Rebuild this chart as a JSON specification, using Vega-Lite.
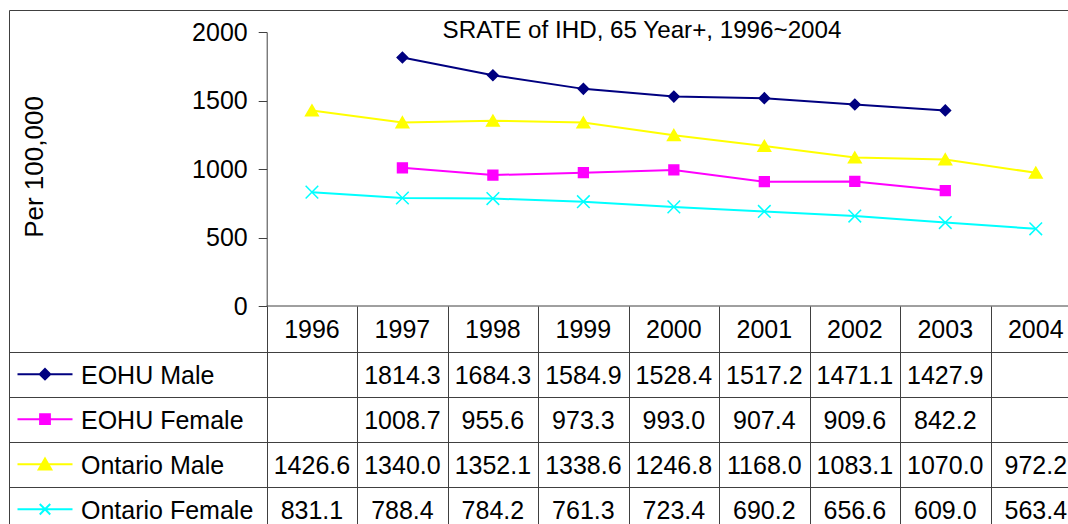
{
  "$schema": "https://vega.github.io/schema/vega-lite/v6.json",
  "width": 1072,
  "height": 520,
  "autosize": {"type": "none"},
  "padding": {"left": 9, "top": 10, "right": 0, "bottom": 0},
  "background": "#ffffff",
  "config": {
    "view": {"stroke": "#404040", "strokeWidth": 1},
    "font": "Liberation Sans",
    "axis": {"domainColor": "#404040", "tickColor": "#404040", "gridColor": "#404040", "domainWidth": 1, "tickWidth": 1, "gridWidth": 1, "labelColor": "#000000", "labelFont": "Liberation Sans", "titleColor": "#000000", "titleFont": "Liberation Sans"}
  },
  "title": {"text": "SRATE of IHD, 65 Year+, 1996~2004", "frame": "group", "anchor": "middle", "dx": 97, "offset": -28, "dy": 24, "baseline": "alphabetic", "fontSize": 24.2, "fontWeight": "normal", "color": "#000000", "font": "Liberation Sans"},
  "datasets": {
    "rates": [
      {"series": "EOHU Male", "year": "1997", "value": 1814.3},
      {"series": "EOHU Male", "year": "1998", "value": 1684.3},
      {"series": "EOHU Male", "year": "1999", "value": 1584.9},
      {"series": "EOHU Male", "year": "2000", "value": 1528.4},
      {"series": "EOHU Male", "year": "2001", "value": 1517.2},
      {"series": "EOHU Male", "year": "2002", "value": 1471.1},
      {"series": "EOHU Male", "year": "2003", "value": 1427.9},
      {"series": "EOHU Female", "year": "1997", "value": 1008.7},
      {"series": "EOHU Female", "year": "1998", "value": 955.6},
      {"series": "EOHU Female", "year": "1999", "value": 973.3},
      {"series": "EOHU Female", "year": "2000", "value": 993.0},
      {"series": "EOHU Female", "year": "2001", "value": 907.4},
      {"series": "EOHU Female", "year": "2002", "value": 909.6},
      {"series": "EOHU Female", "year": "2003", "value": 842.2},
      {"series": "Ontario Male", "year": "1996", "value": 1426.6},
      {"series": "Ontario Male", "year": "1997", "value": 1340.0},
      {"series": "Ontario Male", "year": "1998", "value": 1352.1},
      {"series": "Ontario Male", "year": "1999", "value": 1338.6},
      {"series": "Ontario Male", "year": "2000", "value": 1246.8},
      {"series": "Ontario Male", "year": "2001", "value": 1168.0},
      {"series": "Ontario Male", "year": "2002", "value": 1083.1},
      {"series": "Ontario Male", "year": "2003", "value": 1070.0},
      {"series": "Ontario Male", "year": "2004", "value": 972.2},
      {"series": "Ontario Female", "year": "1996", "value": 831.1},
      {"series": "Ontario Female", "year": "1997", "value": 788.4},
      {"series": "Ontario Female", "year": "1998", "value": 784.2},
      {"series": "Ontario Female", "year": "1999", "value": 761.3},
      {"series": "Ontario Female", "year": "2000", "value": 723.4},
      {"series": "Ontario Female", "year": "2001", "value": 690.2},
      {"series": "Ontario Female", "year": "2002", "value": 656.6},
      {"series": "Ontario Female", "year": "2003", "value": 609.0},
      {"series": "Ontario Female", "year": "2004", "value": 563.4}
    ],
    "years": [
      {"year": "1996"}, {"year": "1997"}, {"year": "1998"}, {"year": "1999"}, {"year": "2000"},
      {"year": "2001"}, {"year": "2002"}, {"year": "2003"}, {"year": "2004"}
    ],
    "series": [
      {"series": "EOHU Male"}, {"series": "EOHU Female"}, {"series": "Ontario Male"}, {"series": "Ontario Female"}
    ]
  },
  "layer": [
    {
      "data": {"name": "rates"},
      "mark": {"type": "line", "strokeWidth": 2},
      "encoding": {
        "x": {"field": "year", "type": "nominal", "bandPosition": 0.5, "scale": {"type": "band", "domain": ["1996","1997","1998","1999","2000","2001","2002","2003","2004"], "range": [257.7, 1072], "paddingInner": 0, "paddingOuter": 0}, "axis": null},
        "y": {"field": "value", "type": "quantitative", "scale": {"domain": [0, 2000], "range": [296, 22], "nice": false, "zero": true},
          "axis": {"orient": "left", "offset": -257.7, "values": [0, 500, 1000, 1500, 2000], "format": "d", "tickSize": 8.5, "labelPadding": 11, "labelFontSize": 25, "labelFlush": false, "labelOverlap": false, "grid": false, "domain": true, "ticks": true,
            "title": "Per 100,000", "titleFontSize": 26, "titleFontWeight": "normal", "titleX": -224.7, "titleY": 156.5, "titleAlign": "center", "titleBaseline": "alphabetic", "titleAngle": -90}},
        "color": {"field": "series", "type": "nominal", "scale": {"domain": ["EOHU Male", "EOHU Female", "Ontario Male", "Ontario Female"], "range": ["#000080", "#FF00FF", "#FFFF00", "#00FFFF"]}, "legend": null}
      }
    },
    {
      "data": {"name": "rates"},
      "mark": {"type": "point", "filled": true, "opacity": 1, "size": 196, "strokeWidth": 1.5},
      "encoding": {
        "x": {"field": "year", "type": "nominal", "bandPosition": 0.5, "scale": {"type": "band", "domain": ["1996","1997","1998","1999","2000","2001","2002","2003","2004"], "range": [257.7, 1072], "paddingInner": 0, "paddingOuter": 0}, "axis": null},
        "y": {"field": "value", "type": "quantitative", "scale": {"domain": [0, 2000], "range": [296, 22], "nice": false, "zero": true}, "axis": null},
        "color": {"field": "series", "type": "nominal", "scale": {"domain": ["EOHU Male", "EOHU Female", "Ontario Male", "Ontario Female"], "range": ["#000080", "#FF00FF", "#FFFF00", "#00FFFF"]}, "legend": null},
        "stroke": {"field": "series", "type": "nominal", "scale": {"domain": ["EOHU Male", "EOHU Female", "Ontario Male", "Ontario Female"], "range": ["#000080", "#FF00FF", "#FFFF00", "#00FFFF"]}, "legend": null},
        "shape": {"field": "series", "type": "nominal", "scale": {"domain": ["EOHU Male", "EOHU Female", "Ontario Male", "Ontario Female"], "range": ["M0,-0.75L0.75,0L0,0.75L-0.75,0Z", "M-0.7,-0.7H0.7V0.7H-0.7Z", "M0,-0.8L0.9,0.75H-0.9Z", "M-0.9,-0.9L0.9,0.9M-0.9,0.9L0.9,-0.9"]}, "legend": null}
      }
    },
    {
      "data": {"values": [{}]},
      "mark": {"type": "rule", "color": "#404040", "strokeWidth": 1},
      "encoding": {
        "x": {"datum": "1996", "type": "nominal", "bandPosition": 0, "scale": {"type": "band", "domain": ["1996","1997","1998","1999","2000","2001","2002","2003","2004"], "range": [257.7, 1072], "paddingInner": 0, "paddingOuter": 0}, "axis": null},
        "x2": {"value": "width"},
        "y": {"datum": 0, "type": "quantitative", "scale": {"domain": [0, 2000], "range": [296, 22], "nice": false, "zero": true}, "axis": null}
      }
    },
    {
      "data": {"name": "years"},
      "mark": {"type": "text", "fontSize": 25, "color": "#000000", "baseline": "middle", "align": "center", "dy": 1},
      "encoding": {
        "x": {"field": "year", "type": "nominal", "bandPosition": 0.5, "scale": {"type": "band", "domain": ["1996","1997","1998","1999","2000","2001","2002","2003","2004"], "range": [257.7, 1072], "paddingInner": 0, "paddingOuter": 0}, "axis": null},
        "y": {"datum": "Year", "type": "nominal", "bandPosition": 0.5, "scale": {"type": "band", "domain": ["Year"], "range": [296, 341.7], "paddingInner": 0, "paddingOuter": 0}, "axis": null},
        "text": {"field": "year", "type": "nominal"}
      }
    },
    {
      "data": {"name": "rates"},
      "mark": {"type": "text", "fontSize": 25, "color": "#000000", "baseline": "middle", "align": "center", "dy": 2},
      "encoding": {
        "x": {"field": "year", "type": "nominal", "bandPosition": 0.5, "scale": {"type": "band", "domain": ["1996","1997","1998","1999","2000","2001","2002","2003","2004"], "range": [257.7, 1072], "paddingInner": 0, "paddingOuter": 0},
          "axis": {"orient": "bottom", "domain": false, "labels": false, "ticks": true, "tickBand": "extent", "tickSize": -224, "grid": false, "title": null}},
        "y": {"field": "series", "type": "nominal", "bandPosition": 0.5, "scale": {"type": "band", "domain": ["EOHU Male", "EOHU Female", "Ontario Male", "Ontario Female"], "range": [341.7, 521.7], "paddingInner": 0, "paddingOuter": 0},
          "axis": {"orient": "left", "domain": false, "labels": false, "ticks": true, "tickBand": "extent", "tickSize": -1072, "grid": false, "title": null}},
        "text": {"field": "value", "type": "quantitative", "format": ".1f"}
      }
    },
    {
      "data": {"name": "series"},
      "mark": {"type": "point", "filled": true, "opacity": 1, "size": 196, "strokeWidth": 2},
      "encoding": {
        "x": {"datum": "key", "type": "nominal", "bandPosition": 0.5, "scale": {"type": "band", "domain": ["key"], "range": [0, 72], "paddingInner": 0, "paddingOuter": 0}, "axis": null},
        "y": {"field": "series", "type": "nominal", "bandPosition": 0.5, "scale": {"type": "band", "domain": ["EOHU Male", "EOHU Female", "Ontario Male", "Ontario Female"], "range": [341.7, 521.7], "paddingInner": 0, "paddingOuter": 0}, "axis": null},
        "color": {"field": "series", "type": "nominal", "scale": {"domain": ["EOHU Male", "EOHU Female", "Ontario Male", "Ontario Female"], "range": ["#000080", "#FF00FF", "#FFFF00", "#00FFFF"]}, "legend": null},
        "stroke": {"field": "series", "type": "nominal", "scale": {"domain": ["EOHU Male", "EOHU Female", "Ontario Male", "Ontario Female"], "range": ["#000080", "#FF00FF", "#FFFF00", "#00FFFF"]}, "legend": null},
        "shape": {"field": "series", "type": "nominal", "scale": {"domain": ["EOHU Male", "EOHU Female", "Ontario Male", "Ontario Female"], "range": ["M-3.93,0H3.93M0,-0.75L0.75,0L0,0.75L-0.75,0Z", "M-3.93,0H3.93M-0.7,-0.7H0.7V0.7H-0.7Z", "M-3.93,0H3.93M0,-0.8L0.9,0.75H-0.9Z", "M-3.93,0H3.93M-0.75,-0.75L0.75,0.75M-0.75,0.75L0.75,-0.75"]}, "legend": null}
      }
    },
    {
      "data": {"name": "series"},
      "mark": {"type": "text", "fontSize": 25, "color": "#000000", "baseline": "middle", "align": "left", "dy": 2},
      "encoding": {
        "x": {"datum": "key", "type": "nominal", "bandPosition": 1, "scale": {"type": "band", "domain": ["key"], "range": [0, 72], "paddingInner": 0, "paddingOuter": 0}, "axis": null},
        "y": {"field": "series", "type": "nominal", "bandPosition": 0.5, "scale": {"type": "band", "domain": ["EOHU Male", "EOHU Female", "Ontario Male", "Ontario Female"], "range": [341.7, 521.7], "paddingInner": 0, "paddingOuter": 0}, "axis": null},
        "text": {"field": "series", "type": "nominal"}
      }
    }
  ],
  "resolve": {
    "scale": {"x": "independent", "y": "independent", "shape": "independent"},
    "axis": {"x": "independent", "y": "independent"}
  }
}
